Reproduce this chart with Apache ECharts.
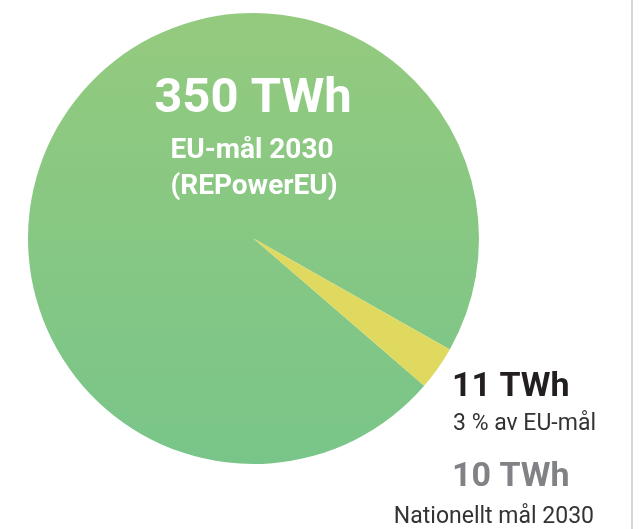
<!DOCTYPE html>
<html>
<head>
<meta charset="utf-8">
<script src="https://cdn.jsdelivr.net/npm/echarts@6/dist/echarts.min.js"></script>
<style>
  html, body { margin: 0; padding: 0; background: #fff; }
  #chart { width: 640px; height: 529px; }
</style>
</head>
<body>
<div id="chart"></div>
<script>
// data (TWh)
var categories = ['EU-mål 2030 (REPowerEU)', 'Nationellt mål 2030']
var values = [339, 11]          // pie slices: rest of EU target, Swedish share
var euTarget = 350
var nationalTarget = 10
var sharePct = 3

var chart = echarts.init(document.getElementById('chart'))
var font = 'Roboto'

chart.setOption({
  backgroundColor: '#ffffff',
  animation: false,
  series: [{
    type: 'pie',
    silent: true,
    z: 1,
    center: [253.5, 238.5],
    radius: [0, 225.5],
    startAngle: -40.8,
    clockwise: true,
    label: { show: false },
    labelLine: { show: false },
    itemStyle: { borderWidth: 0 },
    data: [
      {
        name: categories[0],
        value: values[0],
        itemStyle: {
          color: {
            type: 'linear', x: 0, y: 0, x2: 0, y2: 1,
            colorStops: [
              { offset: 0, color: '#94ca7e' },
              { offset: 1, color: '#79c589' }
            ]
          }
        }
      },
      {
        name: categories[1],
        value: values[1],
        itemStyle: { color: '#e0d95f' }
      }
    ]
  }],
  graphic: {
    elements: [
      // right border line
      { type: 'line', z: 100, shape: { x1: 632, y1: 0, x2: 632, y2: 529 }, style: { stroke: '#c8c8c8', lineWidth: 1.5 } },
      // big slice label
      { type: 'text', z: 100, x: 253, y: 100, style: { text: euTarget + ' TWh', fill: '#fff', font: 'bold 49px ' + font, align: 'center', verticalAlign: 'middle' } },
      { type: 'text', z: 100, x: 252, y: 151, style: { text: 'EU-mål 2030', fill: '#fff', font: 'bold 28px ' + font, align: 'center', verticalAlign: 'middle' } },
      { type: 'text', z: 100, x: 254, y: 187, style: { text: '(REPowerEU)', fill: '#fff', font: 'bold 28px ' + font, align: 'center', verticalAlign: 'middle' } },
      // small slice label
      { type: 'text', z: 100, x: 452, y: 387, style: { text: values[1] + ' TWh', fill: '#231f20', font: 'bold 34px ' + font, align: 'left', verticalAlign: 'middle' } },
      { type: 'text', z: 100, x: 453, y: 424, style: { text: sharePct + ' % av EU-mål', fill: '#333', font: '23px ' + font, align: 'left', verticalAlign: 'middle' } },
      // national target
      { type: 'text', z: 100, x: 452, y: 477, style: { text: nationalTarget + ' TWh', fill: '#808285', font: 'bold 34px ' + font, align: 'left', verticalAlign: 'middle' } },
      { type: 'text', z: 100, x: 594, y: 517, style: { text: 'Nationellt mål 2030', fill: '#333', font: '23px ' + font, align: 'right', verticalAlign: 'middle' } }
    ]
  }
})
</script>
</body>
</html>
